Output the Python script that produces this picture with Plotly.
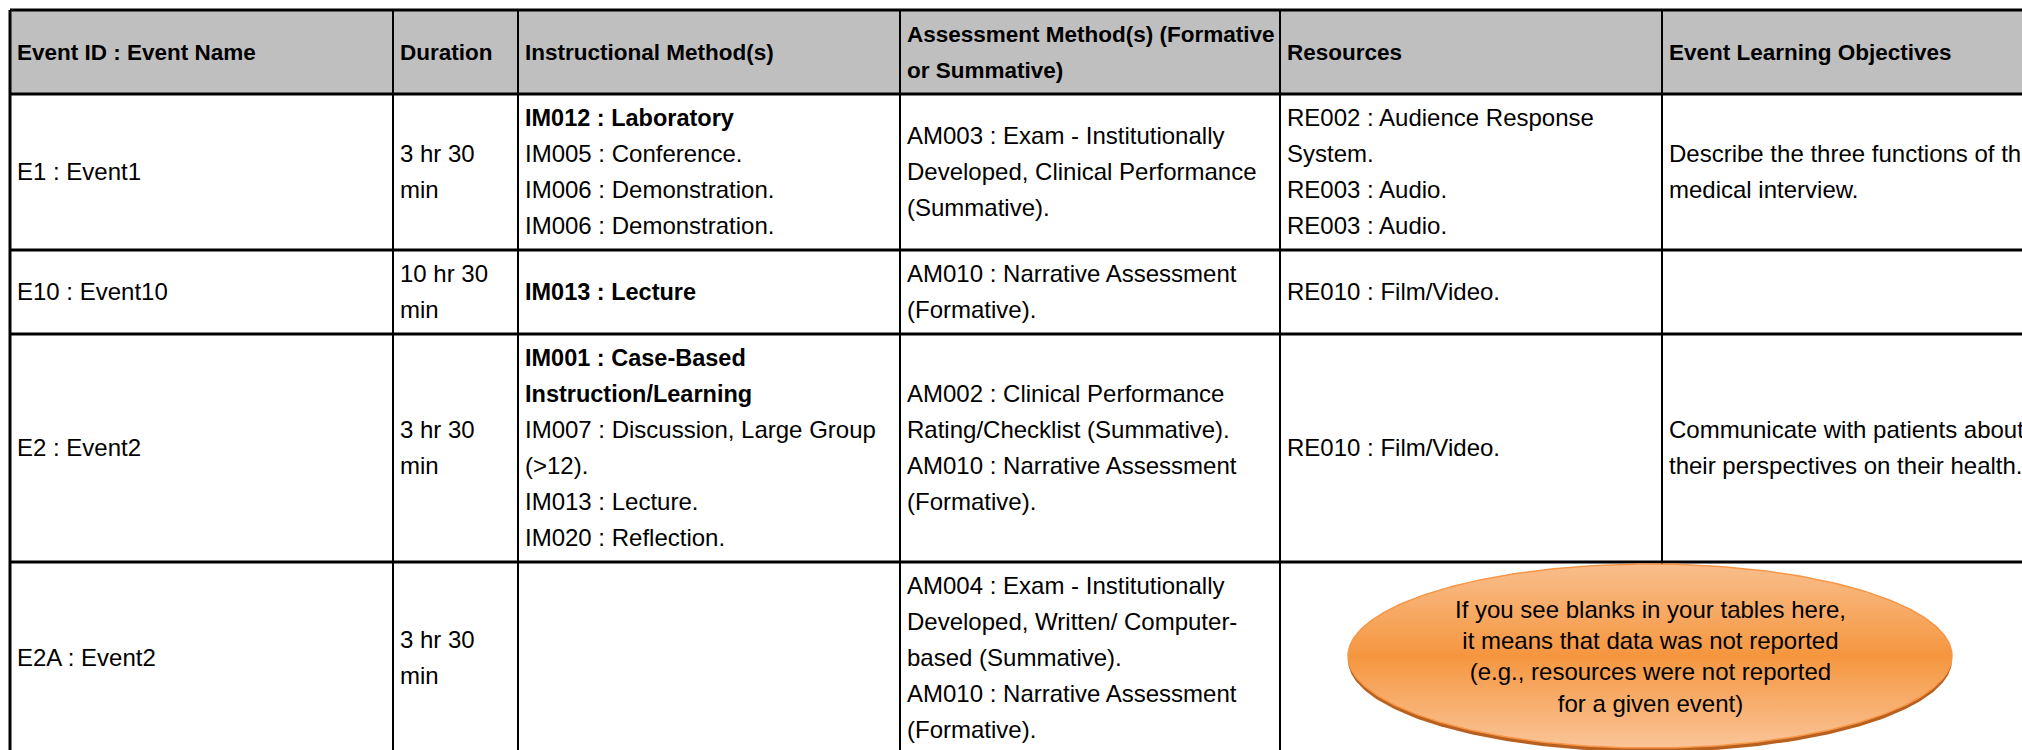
import numpy as np
import plotly.graph_objects as go

# ---------------- data (text content of the table) ----------------
header_lines = [
    ["Event ID : Event Name"],
    ["Duration"],
    ["Instructional Method(s)"],
    ["Assessment Method(s) (Formative", "or Summative)"],
    ["Resources"],
    ["Event Learning Objectives"],
]

event_names = ["E1 : Event1", "E10 : Event10", "E2 : Event2", "E2A : Event2"]

durations = [
    ["3 hr 30", "min"],
    ["10 hr 30", "min"],
    ["3 hr 30", "min"],
    ["3 hr 30", "min"],
]

instructional = [
    ["IM012 : Laboratory", "IM005 : Conference.", "IM006 : Demonstration.", "IM006 : Demonstration."],
    ["IM013 : Lecture"],
    ["IM001 : Case-Based", "Instruction/Learning", "IM007 : Discussion, Large Group", "(>12).",
     "IM013 : Lecture.", "IM020 : Reflection."],
    [],
]
# number of leading lines that belong to the primary (bold) method
instructional_primary = [1, 1, 2, 0]

assessment = [
    ["AM003 : Exam - Institutionally", "Developed, Clinical Performance", "(Summative)."],
    ["AM010 : Narrative Assessment", "(Formative)."],
    ["AM002 : Clinical Performance", "Rating/Checklist (Summative).", "AM010 : Narrative Assessment",
     "(Formative)."],
    ["AM004 : Exam - Institutionally", "Developed, Written/ Computer-", "based (Summative).",
     "AM010 : Narrative Assessment", "(Formative)."],
]

resources = [
    ["RE002 : Audience Response", "System.", "RE003 : Audio.", "RE003 : Audio."],
    ["RE010 : Film/Video."],
    ["RE010 : Film/Video."],
    [],
]

objectives = [
    ["Describe the three functions of the", "medical interview."],
    [],
    ["Communicate with patients about", "their perspectives on their health..."],
    [],
]

note_lines = [
    "If you see blanks in your tables here,",
    "it means that data was not reported",
    "(e.g., resources were not reported",
    "for a given event)",
]

# ---------------- layout constants ----------------
W, H = 2022, 750
col_edges = [10, 393, 518, 900, 1280, 1662, 2100]
table_top = 10
LINE_H = 36
ROW_PAD = 12
TEXT_PAD = 7
TEXT_DY = 2
FONT = "Liberation Sans, Arial, Helvetica, sans-serif"
REG_SIZE = 24
BOLD_SIZE = 23.5
HEAD_SIZE = 22.5
HEADER_FILL = "#BFBFBF"

# ---------------- build table geometry from the data ----------------
rows = []
rows.append([[(t, True) for t in col] for col in header_lines])
for i in range(len(event_names)):
    nb = instructional_primary[i]
    rows.append([
        [(event_names[i], False)],
        [(t, False) for t in durations[i]],
        [(t, k < nb) for k, t in enumerate(instructional[i])],
        [(t, False) for t in assessment[i]],
        [(t, False) for t in resources[i]],
        [(t, False) for t in objectives[i]],
    ])

row_edges = [table_top]
for r in rows:
    n = max(1, max(len(c) for c in r))
    row_edges.append(row_edges[-1] + n * LINE_H + ROW_PAD)

reg_x, reg_y, reg_t = [], [], []
bold_x, bold_y, bold_t = [], [], []
hdr_x, hdr_y, hdr_t = [], [], []
for ri, r in enumerate(rows):
    cy = (row_edges[ri] + row_edges[ri + 1]) / 2 + TEXT_DY
    for ci, col in enumerate(r):
        n = len(col)
        for k, (t, b) in enumerate(col):
            y = cy + (k - (n - 1) / 2) * LINE_H
            x = col_edges[ci] + TEXT_PAD
            if ri == 0:
                hdr_x.append(x); hdr_y.append(y); hdr_t.append(t)
            elif b:
                bold_x.append(x); bold_y.append(y); bold_t.append(t)
            else:
                reg_x.append(x); reg_y.append(y); reg_t.append(t)

fig = go.Figure()

shapes = []
shapes.append(dict(type="rect", xref="x", yref="y", x0=col_edges[0], x1=col_edges[-1],
                   y0=row_edges[0], y1=row_edges[1], fillcolor=HEADER_FILL,
                   line=dict(width=0), layer="below"))
for y in row_edges:
    shapes.append(dict(type="line", xref="x", yref="y", x0=col_edges[0], x1=col_edges[-1],
                       y0=y, y1=y, line=dict(color="black", width=3), layer="below"))
for j, x in enumerate(col_edges):
    shapes.append(dict(type="line", xref="x", yref="y", x0=x, x1=x,
                       y0=row_edges[0], y1=row_edges[-1],
                       line=dict(color="black", width=3 if j == 0 else 2), layer="below"))

fig.add_trace(go.Scatter(x=hdr_x, y=hdr_y, text=hdr_t, mode="text", textposition="middle right",
                         textfont=dict(family=FONT, size=HEAD_SIZE, color="black", weight="bold"),
                         hoverinfo="skip", showlegend=False))
fig.add_trace(go.Scatter(x=bold_x, y=bold_y, text=bold_t, mode="text", textposition="middle right",
                         textfont=dict(family=FONT, size=BOLD_SIZE, color="black", weight="bold"),
                         hoverinfo="skip", showlegend=False))
fig.add_trace(go.Scatter(x=reg_x, y=reg_y, text=reg_t, mode="text", textposition="middle right",
                         textfont=dict(family=FONT, size=REG_SIZE, color="black"),
                         hoverinfo="skip", showlegend=False))

# ---------------- callout ellipse ----------------
ecx, ecy, erx, ery = 1650, 656, 302, 92
th = np.linspace(0, 2 * np.pi, 361)
fig.add_trace(go.Scatter(x=ecx + erx * np.cos(th), y=ecy + 4 + ery * np.sin(th), mode="lines",
                         fill="toself", fillcolor="#B8601F", line=dict(width=0),
                         hoverinfo="skip", showlegend=False))
fig.add_trace(go.Scatter(x=ecx + erx * np.cos(th), y=ecy + ery * np.sin(th), mode="lines",
                         fill="toself",
                         fillgradient=dict(type="vertical",
                                           colorscale=[[0, "#FAC498"], [0.5, "#F5963F"], [1, "#F9BE8C"]]),
                         line=dict(color="#F79646", width=1.5),
                         hoverinfo="skip", showlegend=False))
fig.add_annotation(x=ecx, y=ecy, xref="x", yref="y", text="<br>".join(note_lines),
                   showarrow=False, align="center",
                   font=dict(family=FONT, size=24, color="black"))

fig.update_layout(
    width=W, height=H, margin=dict(l=0, r=0, t=0, b=0),
    paper_bgcolor="white", plot_bgcolor="white",
    shapes=shapes, showlegend=False,
    xaxis=dict(range=[0, W], visible=False, fixedrange=True),
    yaxis=dict(range=[H, 0], visible=False, fixedrange=True),
)

fig.write_html("out.html", config={"displayModeBar": False},
               post_script="document.body.style.margin='0';document.body.style.overflow='hidden';")
